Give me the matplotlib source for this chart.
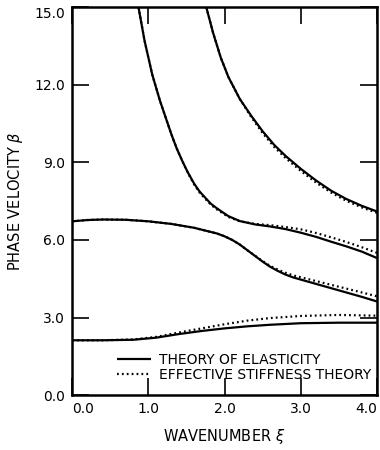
# Dispersion curves: phase velocity vs wavenumber, elasticity vs effective stiffness theory

import matplotlib
matplotlib.use("Agg")
import matplotlib.pyplot as plt

# mode 1 (lowest)
m1_x = [0.0, 0.4, 0.8, 1.1, 1.4, 1.7, 2.0, 2.3, 2.6, 3.0, 3.5, 4.0]
m1_exact = [2.12, 2.12, 2.14, 2.22, 2.36, 2.48, 2.58, 2.66, 2.72, 2.78, 2.8, 2.8]
m1_eff = [2.12, 2.12, 2.15, 2.25, 2.42, 2.58, 2.74, 2.88, 2.98, 3.06, 3.1, 3.07]

# mode 2
m2_x = [0.0, 0.2, 0.4, 0.7, 1.0, 1.3, 1.6, 1.9, 2.0, 2.1, 2.2, 2.3, 2.4, 2.5, 2.6, 2.7,
        2.8, 2.9, 3.2, 3.5, 3.8, 4.0]
m2_exact = [6.72, 6.77, 6.79, 6.78, 6.72, 6.62, 6.47, 6.25, 6.14, 6.0, 5.82, 5.6, 5.38,
            5.16, 4.96, 4.8, 4.66, 4.55, 4.3, 4.05, 3.8, 3.62]
m2_eff = [6.72, 6.77, 6.79, 6.78, 6.72, 6.62, 6.47, 6.25, 6.14, 6.0, 5.82, 5.6, 5.39,
          5.18, 4.99, 4.85, 4.73, 4.63, 4.41, 4.19, 3.97, 3.82]

# mode 3
m3_x = [0.87, 0.95, 1.05, 1.15, 1.3, 1.37, 1.45, 1.52, 1.6, 1.67, 1.75, 1.82, 1.9, 2.05,
        2.2, 2.4, 2.6, 2.8, 3.0, 3.2, 3.4, 3.6, 3.8, 4.0]
m3_exact = [15.0, 13.7, 12.4, 11.4, 10.1, 9.55, 9.02, 8.6, 8.18, 7.88, 7.62, 7.4, 7.22, 6.92,
            6.73, 6.6, 6.52, 6.42, 6.28, 6.12, 5.93, 5.75, 5.55, 5.3]
m3_eff = [15.0, 13.7, 12.4, 11.4, 10.1, 9.55, 9.02, 8.58, 8.15, 7.84, 7.58, 7.36, 7.18, 6.89,
          6.72, 6.62, 6.57, 6.5, 6.41, 6.27, 6.1, 5.92, 5.72, 5.5]

# mode 4
m4_x = [1.76, 1.85, 1.95, 2.05, 2.2, 2.35, 2.5, 2.65, 2.8, 3.0, 3.2, 3.4, 3.6, 3.8, 4.0]
m4_exact = [15.0, 14.0, 13.05, 12.3, 11.45, 10.8, 10.2, 9.68, 9.25, 8.75, 8.3, 7.9, 7.58, 7.32, 7.1]
m4_eff = [15.0, 14.0, 13.05, 12.3, 11.45, 10.75, 10.13, 9.6, 9.17, 8.67, 8.22, 7.83, 7.51, 7.26, 7.05]

x_ticks = [0.0, 1.0, 2.0, 3.0, 4.0]
y_ticks = [0.0, 3.0, 6.0, 9.0, 12.0, 15.0]

fig = plt.figure(figsize=(3.8, 4.5), dpi=100)
ax = fig.add_axes([0.19, 0.122, 0.802, 0.862])

solid_kw = dict(color="black", linewidth=1.6, solid_capstyle="butt")
dot_kw = dict(color="black", linewidth=1.6, linestyle=(0, (0.8, 1.4)))

for xs, ys in [(m1_x, m1_exact), (m2_x, m2_exact), (m3_x, m3_exact), (m4_x, m4_exact)]:
    ax.plot(xs, ys, **solid_kw)
for xs, ys in [(m1_x, m1_eff), (m2_x, m2_eff), (m3_x, m3_eff), (m4_x, m4_eff)]:
    ax.plot(xs, ys, **dot_kw)

ax.set_xlim(0, 4.0)
ax.set_ylim(0, 15.0)
ax.set_xticks(x_ticks)
ax.set_yticks(y_ticks)
ax.set_xticklabels([f"{v:.1f}" for v in x_ticks])
ax.set_yticklabels([f"{v:.1f}" for v in y_ticks])
ax.tick_params(direction="in", length=12, width=1.2, top=True, right=True,
               labelsize=10, pad=5)
xl = ax.get_xticklabels()
xl[0].set_ha("left")
xl[-1].set_ha("right")
yl = ax.get_yticklabels()
yl[-1].set_va("top")
for s in ax.spines.values():
    s.set_linewidth(1.8)

ax.set_xlabel("WAVENUMBER $\\xi$", fontsize=10.5, labelpad=8)
ax.set_ylabel("PHASE VELOCITY $\\beta$", fontsize=10.5, labelpad=7)

ax.plot([], [], label="THEORY OF ELASTICITY", **solid_kw)
ax.plot([], [], label="EFFECTIVE STIFFNESS THEORY", **dot_kw)
handles, labels = ax.get_legend_handles_labels()
ax.legend(handles[-2:], labels[-2:], loc="lower right", frameon=False, fontsize=10,
          handlelength=2.4, handletextpad=0.6, labelspacing=0.05,
          borderaxespad=0.0, bbox_to_anchor=(1.0, 0.02))

fig.savefig("out.png", dpi=100)
